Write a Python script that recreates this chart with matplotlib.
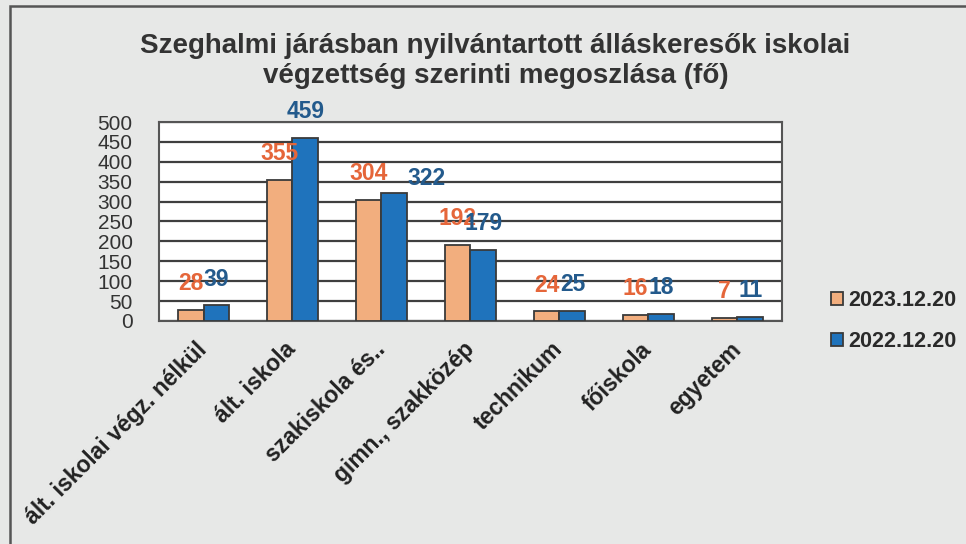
import matplotlib
matplotlib.use("Agg")
import matplotlib.pyplot as plt
import numpy as np
from matplotlib.patches import Rectangle

categories = ["ált. iskolai végz. nélkül", "ált. iskola", "szakiskola és..",
              "gimn., szakközép", "technikum", "főiskola", "egyetem"]
series_names = ["2023.12.20", "2022.12.20"]
values_2023 = [28, 355, 304, 192, 24, 16, 7]
values_2022 = [39, 459, 322, 179, 25, 18, 11]
yticks = [0, 50, 100, 150, 200, 250, 300, 350, 400, 450, 500]
title = "Szeghalmi járásban nyilvántartott álláskeresők iskolai\nvégzettség szerinti megoszlása (fő)"

plt.rcParams['font.family'] = ['Liberation Sans', 'DejaVu Sans']

bg = "#E7E8E7"
fig = plt.figure(figsize=(9.66, 5.44), dpi=100, facecolor=bg)
ax = fig.add_axes([0.1646, 0.410, 0.6449, 0.3657])
ax.set_facecolor("white")

# outer frame (only top and left edges visible)
fig.patches.append(Rectangle((10/966, -0.1), 1.2, 1.1 - 6/544,
                             transform=fig.transFigure, fill=False,
                             edgecolor="#555555", linewidth=1.8))

x = np.arange(len(categories))
w = 0.29
orange = "#F2AE7E"
blue = "#1F73BC"
edge = "#3A3A3A"
b1 = ax.bar(x - w/2, values_2023, w, color=orange, edgecolor=edge, linewidth=1.3,
            label=series_names[0], zorder=3)
b2 = ax.bar(x + w/2, values_2022, w, color=blue, edgecolor=edge, linewidth=1.3,
            label=series_names[1], zorder=3)

for xi, v in zip(x - w/2, values_2023):
    ax.annotate(str(v), (xi, v), xytext=(0, 19), textcoords="offset points",
                ha="center", va="center", fontsize=16.5, fontweight="bold",
                color="#E5663A", zorder=5, annotation_clip=False)
for i, (xi, v) in enumerate(zip(x + w/2, values_2022)):
    off = (23, 10) if i == 2 else (0, 19)   # label moved aside in the original
    ax.annotate(str(v), (xi, v), xytext=off, textcoords="offset points",
                ha="center", va="center", fontsize=16.5, fontweight="bold",
                color="#235A8C", zorder=5, annotation_clip=False)

ax.set_xlim(-0.5, len(categories) - 0.5)
ax.set_ylim(0, 500)
ax.set_yticks(yticks)
ax.set_yticklabels([str(t) for t in yticks], fontsize=15, color="#333333")
ax.yaxis.grid(True, color="#3F3F3F", linewidth=1.6, zorder=1)
ax.set_axisbelow(True)
ax.tick_params(axis="y", length=0, pad=19)
ax.tick_params(axis="x", length=0, pad=18)
ax.set_xticks(x)
ax.set_xticklabels(categories, rotation=45, ha="right", va="center",
                   rotation_mode="anchor", fontsize=16.5, fontweight="bold",
                   color="#222222")
for s in ["left", "bottom", "right", "top"]:
    ax.spines[s].set_color("#555555")
    ax.spines[s].set_linewidth(1.5)

fig.text(0.513, 0.94, title, ha="center", va="top", fontsize=20,
         fontweight="bold", color="#333333", linespacing=1.2)

leg = fig.legend(handles=[b1, b2], loc="center left",
                 bbox_to_anchor=(0.84, 0.41), frameon=False,
                 prop={"size": 15.5, "weight": "bold"}, handlelength=0.55,
                 handleheight=0.55, handletextpad=0.25, labelspacing=0.95,
                 labelcolor="#2A2A2A")

fig.savefig("out.png", dpi=100, facecolor=bg)
